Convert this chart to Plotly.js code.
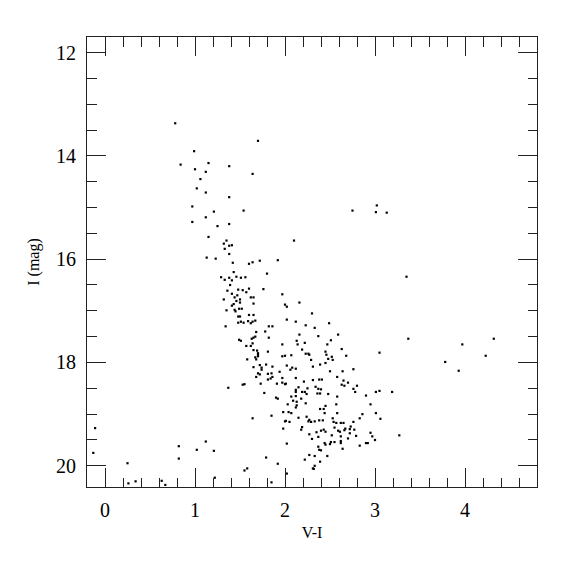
<!DOCTYPE html>
<html>
<head>
<meta charset="utf-8">
<script src="https://cdn.plot.ly/plotly-3.0.1.min.js"></script>
<style>html,body{margin:0;padding:0;background:#fff;}#chart{width:575px;height:575px;}</style>
</head>
<body>
<div id="chart"></div>
<script>
// V-I colour index of each star
const vi = [
0.78,1.70,0.99,0.84,1.15,1.38,1.00,1.12,1.64,1.06,1.02,1.12,1.38,0.97,1.21,1.54,2.75,1.12,0.97,1.25,
1.38,1.15,1.35,2.10,1.32,1.38,1.41,1.33,1.38,1.13,1.23,1.42,1.60,1.64,1.72,1.92,1.43,1.80,1.29,1.33,
1.38,1.41,1.46,1.51,1.56,1.39,1.36,1.41,1.48,1.53,1.57,1.60,1.76,1.97,1.47,1.44,1.50,1.62,1.65,1.32,
1.46,1.50,1.65,1.41,1.43,2.00,2.02,2.16,1.52,1.49,1.44,1.45,1.35,2.30,1.60,1.65,1.48,1.50,2.02,2.12,
2.49,1.48,1.51,1.54,1.59,1.62,1.64,1.67,2.23,2.33,1.34,1.82,1.86,1.68,1.78,2.16,2.37,2.59,1.49,1.51,
1.63,1.65,1.67,1.82,2.13,2.14,2.22,2.51,2.47,1.97,1.64,1.57,1.62,2.19,2.63,2.45,2.46,2.52,2.48,2.53,
2.23,2.26,2.27,1.97,2.00,2.07,2.68,2.29,3.05,1.65,1.69,1.70,1.70,1.70,1.67,1.68,1.81,1.58,2.45,2.39,
2.31,2.02,2.08,2.12,2.06,1.94,2.50,2.64,2.76,1.97,2.12,2.58,2.31,2.38,2.41,1.72,1.74,1.74,1.79,1.86,
1.65,1.70,1.68,1.72,1.81,1.85,1.86,1.84,1.81,1.73,1.91,2.00,1.53,1.55,1.37,1.77,1.90,1.92,2.07,2.09,
2.13,2.03,2.12,2.13,1.98,2.04,2.07,1.85,1.64,2.15,2.00,2.01,2.05,1.98,2.02,1.12,1.02,1.21,0.82,0.82,
1.79,1.92,2.02,1.55,1.58,1.22,1.85,-0.11,-0.13,0.25,0.26,0.34,0.63,0.67,1.97,2.01,2.21,2.65,2.63,2.66,
2.70,2.80,2.76,2.78,2.15,2.12,2.12,2.34,2.37,2.40,2.39,2.36,2.19,2.22,2.24,2.25,2.48,2.58,2.12,2.18,
2.90,3.01,3.05,3.19,2.23,2.57,2.45,2.43,2.39,2.95,2.44,2.58,2.24,2.27,2.26,2.29,2.33,2.38,2.42,2.53,
2.54,2.57,2.62,2.65,2.86,2.83,2.76,3.01,3.06,2.19,2.18,2.55,2.59,2.61,2.66,2.67,2.73,2.72,2.77,2.43,
2.40,2.45,2.27,2.35,2.72,2.52,2.79,2.95,2.97,3.00,3.27,2.30,2.37,2.62,2.62,2.62,2.70,2.51,2.55,2.50,
2.90,2.92,2.83,2.44,2.45,2.37,2.38,2.40,2.64,2.47,2.27,2.33,2.39,2.22,2.33,2.31,2.32,3.02,3.01,3.13,
3.35,3.37,3.97,4.32,3.78,4.23,3.93
];
// I magnitude of each star
const imag = [
13.37,13.71,13.91,14.17,14.14,14.20,14.26,14.31,14.35,14.45,14.63,14.71,14.80,14.98,15.08,15.06,15.06,15.19,15.28,15.36,
15.32,15.57,15.64,15.64,15.70,15.74,15.73,15.80,15.90,15.97,15.99,16.07,16.09,16.06,16.03,16.02,16.25,16.28,16.35,16.40,
16.36,16.41,16.34,16.36,16.35,16.50,16.61,16.67,16.59,16.60,16.64,16.57,16.58,16.68,16.70,16.74,16.78,16.74,16.74,16.78,
16.81,16.84,16.86,16.90,16.87,16.88,16.92,16.84,16.96,16.96,16.98,17.01,16.99,17.05,17.08,17.08,17.11,17.11,17.17,17.21,
17.24,17.23,17.21,17.23,17.20,17.24,17.21,17.19,17.28,17.33,17.30,17.30,17.30,17.41,17.40,17.46,17.49,17.46,17.56,17.58,
17.54,17.52,17.50,17.52,17.58,17.65,17.62,17.57,17.65,17.65,17.63,17.68,17.68,17.75,17.74,17.79,17.85,17.89,17.93,17.95,
17.83,17.83,17.85,17.88,17.87,17.86,17.87,17.95,17.81,17.76,17.77,17.82,17.85,17.88,17.90,17.94,17.79,17.94,18.01,18.04,
18.08,18.06,18.10,18.12,18.14,18.18,18.17,18.17,18.13,18.30,18.30,18.28,18.34,18.33,18.33,18.05,18.10,18.14,18.04,18.08,
18.09,18.21,18.28,18.23,18.22,18.21,18.28,18.31,18.33,18.41,18.41,18.42,18.43,18.42,18.49,18.59,18.68,18.70,18.66,18.74,
18.76,18.81,18.87,18.83,18.96,18.96,18.98,19.03,19.08,19.07,19.14,19.13,19.15,19.28,19.57,19.53,19.69,19.71,19.62,19.86,
19.84,19.96,20.15,20.09,20.05,20.23,20.32,19.27,19.75,19.95,20.34,20.30,20.29,20.37,18.39,18.41,18.37,18.35,18.43,18.45,
18.39,18.45,18.51,18.57,18.48,18.53,18.57,18.47,18.51,18.52,18.60,18.60,18.57,18.57,18.61,18.50,18.61,18.66,18.65,18.70,
18.64,18.57,18.55,18.57,18.79,18.81,18.84,18.90,18.90,18.81,18.98,18.98,19.05,19.11,19.14,19.15,19.14,19.12,19.12,19.08,
19.15,19.17,19.17,19.17,19.00,19.08,19.15,18.98,19.09,19.25,19.30,19.26,19.32,19.34,19.31,19.28,19.24,19.29,19.30,19.30,
19.32,19.34,19.39,19.35,19.37,19.41,19.42,19.36,19.43,19.50,19.41,19.48,19.44,19.43,19.52,19.56,19.47,19.54,19.54,19.58,
19.56,19.56,19.61,19.56,19.59,19.63,19.69,19.70,19.67,19.81,19.79,19.81,19.92,19.88,20.00,20.05,20.06,14.96,15.09,15.10,
16.34,17.54,17.65,17.54,17.99,17.87,18.16
];
const xTickVals = [0,1,2,3,4];
const yTickVals = [12,14,16,18,20];
const xTitle = 'V-I';
const yTitle = 'I (mag)';

const SERIF = 'Liberation Serif';
function axis(extra) {
  return Object.assign({
    showgrid:false, zeroline:false, showline:true, linecolor:'#222', linewidth:1,
    mirror:'ticks', ticks:'inside', ticklen:19, tickwidth:1, tickcolor:'#222',
    tickfont:{family:SERIF, size:20, color:'#000', weight:'normal'}
  }, extra);
}
const trace = {
  x: vi, y: imag, type:'scatter', mode:'markers',
  marker:{symbol:'square', size:2.2, color:'#000', line:{width:0}},
  hoverinfo:'none'
};
const layout = {
  width:575, height:575,
  font:{family:SERIF, size:16, color:'#000'},
  margin:{l:87, r:38, t:37, b:88},
  paper_bgcolor:'#fff', plot_bgcolor:'#fff', showlegend:false,
  xaxis: axis({
    range:[-0.2, 4.8], tickmode:'array', tickvals:xTickVals,
    ticklabelstandoff:5,
    minor:{dtick:0.2, tick0:0, ticks:'inside', ticklen:9.5, tickwidth:1, tickcolor:'#222', showgrid:false},
    title:{text:xTitle, font:{family:SERIF, size:16, color:'#000'}, standoff:6}
  }),
  yaxis: axis({
    range:[20.41, 11.70], tickmode:'array', tickvals:yTickVals,
    ticklabelstandoff:6,
    minor:{dtick:0.5, tick0:0, ticks:'inside', ticklen:9.5, tickwidth:1, tickcolor:'#222', showgrid:false},
    title:{text:yTitle, font:{family:SERIF, size:16, color:'#000'}, standoff:12}
  })
};
Plotly.newPlot('chart', [trace], layout, {staticPlot:true, displayModeBar:false});
</script>
</body>
</html>
